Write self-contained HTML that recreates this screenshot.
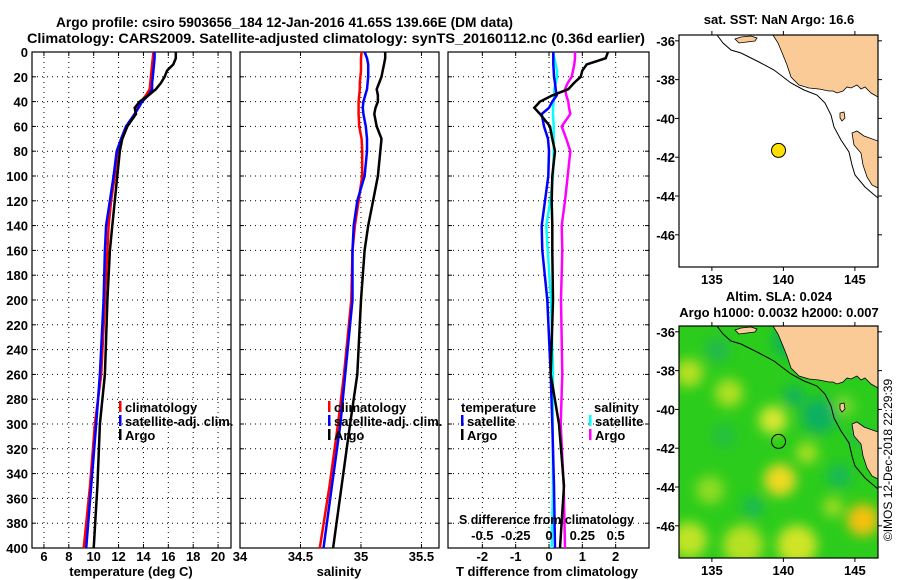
<!DOCTYPE html>
<html><head><meta charset="utf-8"><style>
html,body{margin:0;padding:0;background:#fff;}
svg{display:block;font-family:"Liberation Sans",Arial,sans-serif;font-weight:bold;}
</style></head><body>
<svg id="fig" width="900" height="580" viewBox="0 0 900 580" xmlns="http://www.w3.org/2000/svg">
<text x="56" y="27" font-size="14" textLength="457" lengthAdjust="spacingAndGlyphs">Argo profile: csiro 5903656_184 12-Jan-2016 41.65S 139.66E (DM data)</text>
<text x="27" y="43" font-size="14" textLength="618" lengthAdjust="spacingAndGlyphs">Climatology: CARS2009. Satellite-adjusted climatology: synTS_20160112.nc (0.36d earlier)</text>
<g id="panels"></g>
<g id="maps"></g>
<text transform="translate(892,460) rotate(-90)" text-anchor="middle" font-size="12" font-weight="normal">©IMOS 12-Dec-2018 22:29:39</text>
</svg>
<script>
// ---- chart data ----
const depths = [0,5,10,15,20,25,30,35,40,45,50,60,70,80,100,120,140,160,200,260,300,350,400];
const depthTicks = [0,20,40,60,80,100,120,140,160,180,200,220,240,260,280,300,320,340,360,380,400];
const tempClim = [14.8,14.75,14.7,14.65,14.6,14.55,14.5,14.2,13.8,13.5,13.3,12.7,12.3,11.9,11.7,11.4,11.2,11.1,10.9,10.6,10.1,9.7,9.2];
const tempSat  = [14.9,14.9,14.85,14.8,14.75,14.7,14.7,14.4,13.9,13.6,13.3,12.6,12.2,11.85,11.6,11.3,11.0,10.9,10.8,10.5,10.2,9.8,9.4];
const tempArgo = [16.6,16.6,16.4,15.9,15.7,15.4,15.0,14.4,13.7,13.3,13.4,12.7,12.3,12.1,11.9,11.7,11.5,11.3,11.1,10.9,10.5,10.3,10.0];
const salClim = [35.005,35.0,35.0,35.0,34.995,34.99,34.99,34.985,34.98,34.98,34.98,34.985,35.005,35.01,35.01,34.98,34.95,34.93,34.92,34.86,34.81,34.74,34.66];
const salSat  = [35.03,35.05,35.06,35.06,35.06,35.055,35.05,35.035,35.02,35.015,35.02,35.04,35.05,35.05,35.03,34.97,34.94,34.93,34.93,34.87,34.83,34.76,34.69];
const salArgo = [35.2,35.2,35.19,35.18,35.17,35.15,35.13,35.14,35.14,35.12,35.11,35.13,35.17,35.16,35.14,35.1,35.06,35.03,35.0,34.97,34.91,34.84,34.77];
const dTsat  = [0.13,0.13,0.13,0.14,0.15,0.18,0.2,0.23,0.1,0.0,-0.22,-0.15,-0.03,0.0,-0.02,-0.12,-0.22,-0.2,-0.05,0.05,0.1,0.15,0.18];
const dTargo = [1.77,1.7,1.13,1.0,0.95,0.75,0.58,0.1,-0.27,-0.44,-0.27,0.03,0.1,0.18,0.1,0.08,0.1,0.1,0.12,0.05,0.3,0.45,0.33];
const dSsat  = [0.03,0.04,0.05,0.06,0.06,0.05,0.04,0.04,0.035,0.03,0.03,0.035,0.035,0.035,0.03,0.01,-0.02,-0.01,0.015,0.03,0.028,0.03,0.02];
const dSargo = [0.195,0.195,0.19,0.18,0.17,0.14,0.12,0.13,0.145,0.15,0.16,0.095,0.13,0.16,0.14,0.12,0.095,0.1,0.09,0.1,0.088,0.11,0.12];
const tempTicks = [6,8,10,12,14,16,18,20];
const salTicks = [34,34.5,35,35.5];
const salTickLabels = ["34","34.5","35","35.5"];
const dTTicks = [-2,-1,0,1,2];
const dSTicks = [-0.5,-0.25,0,0.25,0.5];
const dSTickLabels = ["-0.5","-0.25","0","0.25","0.5"];
const latTicks = [-36,-38,-40,-42,-44,-46];
const lonTicks = [135,140,145];
const argoLon = 139.66, argoLat = -41.65;

const NS = "http://www.w3.org/2000/svg";
function mk(tag, attrs, parent, txt){
  const e = document.createElementNS(NS, tag);
  for (const k in attrs) e.setAttribute(k, attrs[k]);
  if (txt !== undefined) e.textContent = txt;
  parent.appendChild(e); return e;
}
const Y0 = 52, Y1 = 548;
const yD = d => Y0 + d/400*(Y1-Y0);
const panels = document.getElementById('panels');

function panel(name, x0, x1, dmin, dmax, ticks, tickLabels, ylabels){
  const g = mk('g', {}, panels);
  
  
  const xs = v => x0 + (v-dmin)/(dmax-dmin)*(x1-x0);
  // grid
  depthTicks.forEach(d => {
    if (d>0 && d<400) {
      const l = mk('line', {x1:x0, x2:x1, y1:yD(d), y2:yD(d), stroke:'#000', 'stroke-width':1, 'stroke-dasharray':'1,4'}, g);
      
      
    }
    mk('line', {x1:x0, x2:x0+4, y1:yD(d), y2:yD(d), stroke:'#000'}, g);
    mk('line', {x1:x1-4, x2:x1, y1:yD(d), y2:yD(d), stroke:'#000'}, g);
    if (ylabels) {
      const t = mk('text', {x:28, y:yD(d)+5, 'text-anchor':'end', 'font-size':13}, g, String(d));
      
      
    }
  });
  ticks.forEach((v,i) => {
    const X = xs(v);
    if (X > x0+1 && X < x1-1) {
      const l = mk('line', {x1:X, x2:X, y1:Y0, y2:Y1, stroke:'#000', 'stroke-width':1, 'stroke-dasharray':'1,4'}, g);
      
      
    }
    mk('line', {x1:X, x2:X, y1:Y0, y2:Y0+4, stroke:'#000'}, g);
    mk('line', {x1:X, x2:X, y1:Y1-4, y2:Y1, stroke:'#000'}, g);
    const t = mk('text', {x:X, y:561, 'text-anchor':'middle', 'font-size':13}, g, tickLabels ? tickLabels[i] : String(v));
    
    
  });
  const f = mk('rect', {x:x0, y:Y0, width:x1-x0, height:Y1-Y0, fill:'none', stroke:'#000', 'stroke-width':1.2}, g);
  
  
  return {g, xs};
}
function series(p, vals, color, w, name, xsf){
  const xs = xsf || p.xs;
  let pts = [];
  vals.forEach((v,i) => { pts.push(xs(v).toFixed(1)+','+yD(depths[i]).toFixed(1)); });
  const pl = mk('polyline', {points:pts.join(' '), fill:'none', stroke:color, 'stroke-width':w, 'stroke-linejoin':'miter'}, p.g);
  
  
}
function legendItem(g, x, y, color, label, name){
  const it = mk('g', {}, g);
  
  
  if (color) mk('rect', {x:x, y:y-11, width:2.5, height:11, fill:color}, it);
  mk('text', {x:x+6, y:y, 'font-size':13}, it, label);
}

// Panel 1 temperature
const p1 = panel('temperature-panel', 32, 231, 5.04, 21.04, tempTicks, null, true);
series(p1, tempClim, '#f00', 2.5, 'temp-climatology-line');
series(p1, tempSat, '#00f', 2.5, 'temp-satellite-line');
series(p1, tempArgo, '#000', 2.5, 'temp-argo-line');
legendItem(p1.g, 119, 412, '#f00', 'climatology', 'legend-climatology');
legendItem(p1.g, 119, 426, '#00f', 'satellite-adj. clim.', 'legend-satellite-adj');
legendItem(p1.g, 119, 440, '#000', 'Argo', 'legend-argo');
const t1 = mk('text', {x:131, y:576, 'text-anchor':'middle', 'font-size':13}, p1.g, 'temperature (deg C)');



// Panel 2 salinity
const p2 = panel('salinity-panel', 240, 439, 34.0, 35.645, salTicks, salTickLabels, false);
series(p2, salClim, '#f00', 2.5, 'sal-climatology-line');
series(p2, salSat, '#00f', 2.5, 'sal-satellite-line');
series(p2, salArgo, '#000', 2.5, 'sal-argo-line');
legendItem(p2.g, 328, 412, '#f00', 'climatology', 'legend-climatology');
legendItem(p2.g, 328, 426, '#00f', 'satellite-adj. clim.', 'legend-satellite-adj');
legendItem(p2.g, 328, 440, '#000', 'Argo', 'legend-argo');
const t2 = mk('text', {x:339, y:576, 'text-anchor':'middle', 'font-size':13}, p2.g, 'salinity');



// Panel 3 differences
const p3 = panel('difference-panel', 448, 649, -3.03, 3.0, dTTicks, null, false);
const xsS = v => 549 + v*133.3;
series(p3, dSsat, '#0ff', 2.5, 'sal-diff-satellite-line', xsS);
series(p3, dSargo, '#f0f', 2.5, 'sal-diff-argo-line', xsS);
series(p3, dTsat, '#00f', 2.5, 'temp-diff-satellite-line');
series(p3, dTargo, '#000', 2.5, 'temp-diff-argo-line');
const th = mk('text', {x:461, y:412, 'font-size':13}, p3.g, 'temperature');


legendItem(p3.g, 461, 426, '#00f', 'satellite', 'legend-temp-satellite');
legendItem(p3.g, 461, 440, '#000', 'Argo', 'legend-temp-argo');
const sh = mk('text', {x:594, y:412, 'font-size':13}, p3.g, 'salinity');


legendItem(p3.g, 589, 426, '#0ff', 'satellite', 'legend-sal-satellite');
legendItem(p3.g, 589, 440, '#f0f', 'Argo', 'legend-sal-argo');
const sdt = mk('text', {x:459, y:524, 'font-size':13, textLength:175, lengthAdjust:'spacingAndGlyphs'}, p3.g, 'S difference from climatology');


dSTicks.forEach((v,i) => {
  const t = mk('text', {x:xsS(v), y:540, 'text-anchor':'middle', 'font-size':13}, p3.g, dSTickLabels[i]);
  
  
});
const t3 = mk('text', {x:547, y:576, 'text-anchor':'middle', 'font-size':13}, p3.g, 'T difference from climatology');



// ---- maps ----
const maps = document.getElementById('maps');
const MX = 679, MW = 199, MH = 232;
const lon = v => MX + (v-132.7)*14.3;
const latY = (top, v) => top + (-35.7 - v)*19.4;
const land = [[94,0],[99,8],[104,20],[108,30],[112,42],[120,50],[130,53],[140,54],[150,56],[154,56],[158,58],[164,56],[168,52],[172,53],[178,50],[182,54],[186,52],[192,58],[199,62],[199,0]];
const kangaroo = [[56,4],[62,2],[72,1],[78,3],[76,6],[68,7],[60,8]];
const king = [[161,78],[165,77],[166,83],[163,86],[161,83]];
const tas = [[173,98],[178,96],[185,101],[199,106],[199,153],[193,150],[188,142],[184,130],[182,118],[175,110]];
const shelf = [[38,0],[44,8],[52,15],[62,18],[80,27],[95,35],[112,48],[125,55],[138,60],[146,68],[152,80],[155,92],[162,105],[170,117],[173,130],[176,140],[186,152],[193,158],[199,163]];
const pts = (arr, top) => arr.map(p => (MX+p[0])+','+(top+p[1])).join(' ');

function drawMap(top, name, sla){
  const g = mk('g', {}, maps);
  
  
  const cid = 'clip'+top;
  const cp = mk('clipPath', {id:cid}, g);
  mk('rect', {x:MX, y:top, width:MW, height:MH}, cp);
  const inner = mk('g', {'clip-path':'url(#'+cid+')'}, g);
  if (sla) {
    const defs = mk('defs', {}, inner);
    const fl = mk('filter', {id:'blur', x:'-50%', y:'-50%', width:'200%', height:'200%'}, defs);
    mk('feGaussianBlur', {stdDeviation:6}, fl);
    const bg = mk('rect', {x:MX, y:top, width:MW, height:MH, fill:'#2ccc1c'}, inner);
    
    
    const bl = mk('g', {filter:'url(#blur)'}, inner);
    const blobs = [
      [10,47,14,'#b8e020'],[50,67,14,'#b0e020'],[94,94,14,'#d8e830'],[101,154,16,'#f0d820'],[128,127,11,'#a8e020'],
      [31,164,14,'#90dc20'],[184,194,16,'#f8c010'],[10,214,18,'#c0e428'],[64,219,20,'#b8e020'],[118,219,20,'#d0e428'],
      [154,181,10,'#a0dc20'],[165,80,10,'#80d830'],[74,181,10,'#18b858'],[38,24,12,'#20b850'],[140,90,18,'#10b060'],
      [115,70,10,'#10b060'],[45,110,12,'#20c040'],[160,150,12,'#18b858'],[180,110,10,'#20c048'],[110,15,16,'#10b058']
    ];
    blobs.forEach(b => { mk('circle', {cx:MX+b[0], cy:top+b[1], r:b[2], fill:b[3]}, bl); });
  }
  const landG = mk('g', {fill:'#facb96', stroke:'#000', 'stroke-width':0.8}, inner);
  
  
  [land, kangaroo, king, tas].forEach(a => mk('polygon', {points:pts(a, top)}, landG));
  const sh = mk('polyline', {points:pts(shelf, top), fill:'none', stroke:'#000', 'stroke-width':1}, inner);
  
  
  const pt = mk('circle', {cx:lon(argoLon), cy:latY(top, argoLat), r:7, fill: sla ? 'none' : '#ffe000', stroke:'#000', 'stroke-width':1}, g);
  
  
  mk('rect', {x:MX, y:top, width:MW, height:MH, fill:'none', stroke:'#000', 'stroke-width':1.2}, g);
  latTicks.forEach(v => {
    const Y = latY(top, v);
    mk('line', {x1:MX-4, x2:MX, y1:Y, y2:Y, stroke:'#000'}, g);
    mk('line', {x1:MX+MW, x2:MX+MW+4, y1:Y, y2:Y, stroke:'#000'}, g);
    const t = mk('text', {x:675, y:Y+5, 'text-anchor':'end', 'font-size':13}, g, String(v));
    
    
  });
  lonTicks.forEach(v => {
    const X = lon(v);
    mk('line', {x1:X, x2:X, y1:top-4, y2:top, stroke:'#000'}, g);
    mk('line', {x1:X, x2:X, y1:top+MH, y2:top+MH+4, stroke:'#000'}, g);
    const t = mk('text', {x:X, y:top+MH+17, 'text-anchor':'middle', 'font-size':13}, g, String(v));
    
    
  });
}
drawMap(35, 'sst-map', false);
drawMap(326, 'sla-map', true);
const m1 = mk('text', {x:779, y:24, 'text-anchor':'middle', 'font-size':13}, maps, 'sat. SST: NaN Argo: 16.6');


const m2 = mk('text', {x:779, y:301, 'text-anchor':'middle', 'font-size':13}, maps, 'Altim. SLA: 0.024');


const m3 = mk('text', {x:779, y:317, 'text-anchor':'middle', 'font-size':13}, maps, 'Argo h1000: 0.0032 h2000: 0.007');


</script>
</body></html>
